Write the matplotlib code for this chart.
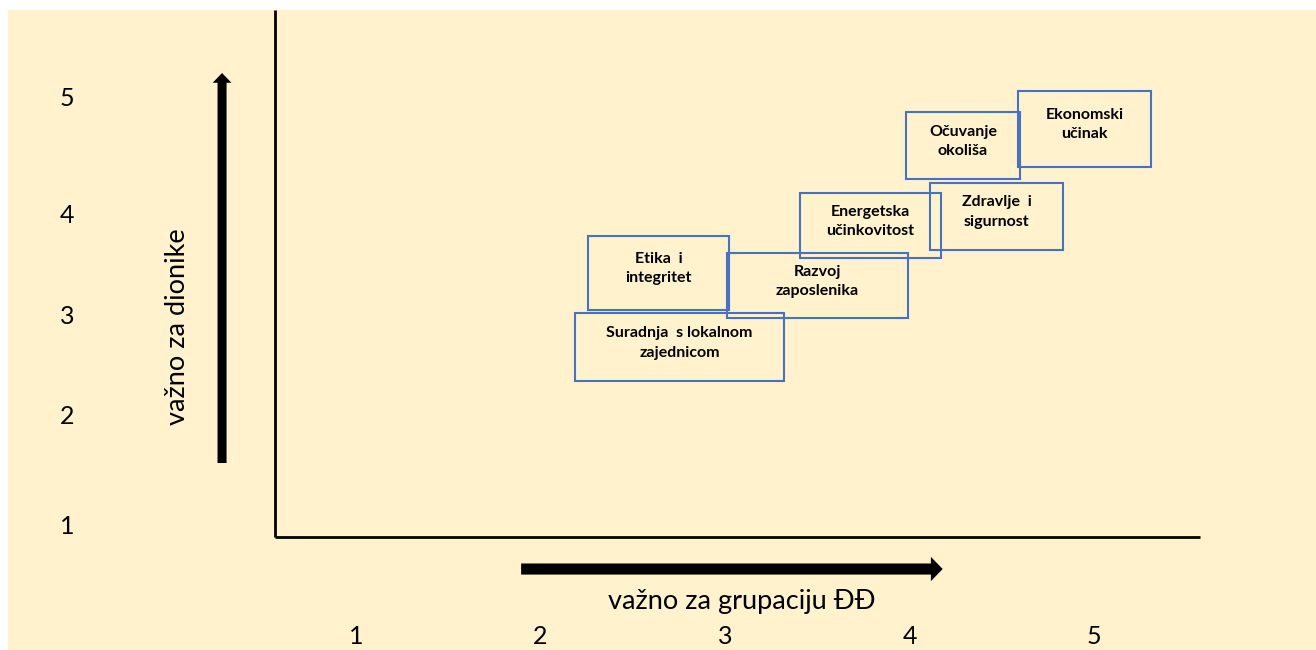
import matplotlib.pyplot as plt
from matplotlib.patches import Rectangle, FancyArrowPatch

# materiality topics: box extent in (importance for company, importance for stakeholders)
labels = [
    "Etika  i\nintegritet",
    "Razvoj\nzaposlenika",
    "Suradnja  s lokalnom\nzajednicom",
    "Energetska\nučinkovitost",
    "Zdravlje  i\nsigurnost",
    "Očuvanje\nokoliša",
    "Ekonomski\nučinak",
]
x0 = [2.257, 3.011, 2.187, 3.407, 4.111, 3.981, 4.588]
x1 = [3.022, 3.992, 3.320, 4.171, 4.832, 4.599, 5.309]
y0 = [2.991, 2.915, 2.321, 3.481, 3.557, 4.226, 4.340]
y1 = [3.689, 3.528, 2.962, 4.094, 4.189, 4.858, 5.057]

x_ticks = [1, 2, 3, 4, 5]
y_ticks = [1, 2, 3, 4, 5]
y_tick_pos = [0.95, 1.99, 2.93, 3.88, 4.99]

BG = "#FFF2CC"
EDGE = "#4472C4"
FONT = ["Lato", "DejaVu Sans"]

fig = plt.figure(figsize=(13.16, 6.5), dpi=100)
fig.patch.set_facecolor("white")
ax = fig.add_axes([0, 0, 1, 1])
ax.set_xlim(-0.9295, 6.2033)
ax.set_ylim(-0.217, 5.915)
ax.axis("off")

# yellow panel
fig.patches.append(Rectangle((8 / 1316, 0), 1, 1 - 10 / 650,
                             transform=fig.transFigure, color=BG, zorder=-10))

# axis lines
ax.plot([0.561, 0.561], [0.849, 5.821], color="black", lw=2, solid_capstyle="butt")
ax.plot([0.561, 5.575], [0.849, 0.849], color="black", lw=2, solid_capstyle="butt")

# arrows
v_style = "simple,head_width=1.35,head_length=0.7,tail_width=0.65"
h_style = "simple,head_width=1.75,head_length=0.85,tail_width=0.8"
ax.add_patch(FancyArrowPatch((0.274, 1.547), (0.274, 5.226), arrowstyle=v_style,
                             mutation_scale=10, color="black", lw=0,
                             shrinkA=0, shrinkB=0))
ax.add_patch(FancyArrowPatch((1.895, 0.547), (4.18, 0.547), arrowstyle=h_style,
                             mutation_scale=10, color="black", lw=0,
                             shrinkA=0, shrinkB=0))

# axis titles
ax.text(0.035, 2.83, "važno za dionike", rotation=90, ha="center", va="center",
        fontsize=19.5, family=FONT)
ax.text(3.092, 0.236, "važno za grupaciju ĐĐ", ha="center", va="center",
        fontsize=19.5, family=FONT)

# tick labels
for v in x_ticks:
    ax.text(v, -0.094, str(v), ha="center", va="center", fontsize=18, family=FONT)
for v, p in zip(y_ticks, y_tick_pos):
    ax.text(-0.566, p, str(v), ha="center", va="center", fontsize=18, family=FONT)

# topic boxes
for lab, a, b, c, d in zip(labels, x0, x1, y0, y1):
    ax.add_patch(Rectangle((a, c), b - a, d - c, fill=False,
                           edgecolor=EDGE, lw=1.5))
    ax.text((a + b) / 2, (c + d) / 2 + 0.04, lab, ha="center", va="center",
            fontsize=11.5, fontweight="bold", family=FONT, linespacing=1.5)

fig.savefig("out.png", dpi=100, facecolor=fig.get_facecolor())
